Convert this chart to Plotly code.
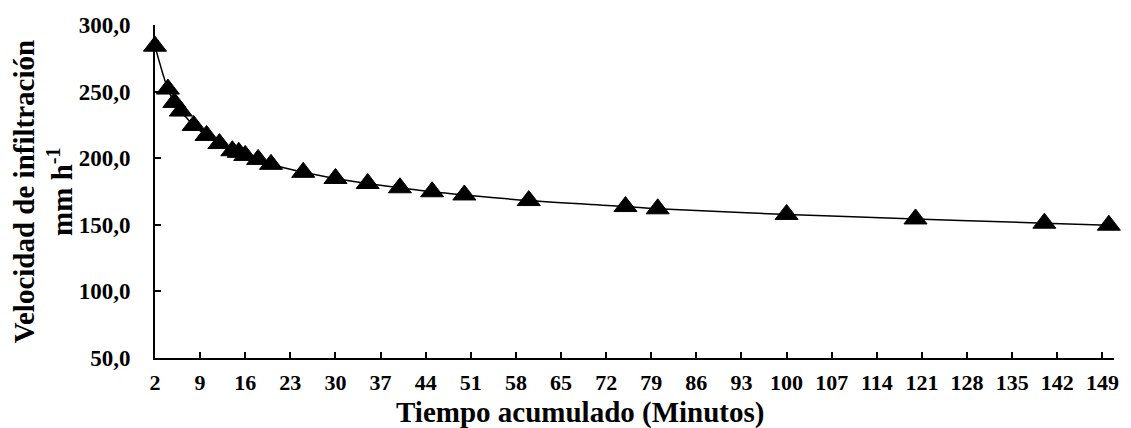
import plotly.graph_objects as go

# Data
tiempo = [2, 4, 5, 6, 8, 10, 12, 14, 15, 16, 18, 20, 25, 30, 35, 40, 45, 50, 60, 75, 80, 100, 120, 140, 150]
velocidad = [284.1, 251.9, 241.9, 235.4, 224.6, 217.1, 211.0, 205.6, 204.4, 202.1, 199.1, 195.4,
             189.4, 184.8, 181.0, 177.8, 174.8, 172.4, 168.2, 163.7, 162.0, 157.8, 154.4, 151.2, 149.7]

x_ticks = [2, 9, 16, 23, 30, 37, 44, 51, 58, 65, 72, 79, 86, 93, 100, 107, 114, 121, 128, 135, 142, 149]
y_ticks = [50, 100, 150, 200, 250, 300]
y_tick_text = ["50,0", "100,0", "150,0", "200,0", "250,0", "300,0"]

x_title = "Tiempo acumulado (Minutos)"
y_title = "Velocidad de infiltración<br>mm h<sup>-1</sup>"

FONT = "Liberation Serif, Times New Roman, serif"

fig = go.Figure()
fig.add_trace(go.Scatter(
    x=tiempo, y=velocidad,
    mode="lines+markers",
    line=dict(color="black", width=1.5, shape="spline"),
    marker=dict(symbol="triangle-up", size=20, color="black",
                line=dict(color="black", width=1)),
    cliponaxis=False,
    showlegend=False,
))

axis_common = dict(
    showgrid=False, zeroline=False,
    showline=True, linecolor="black", linewidth=2,
    ticks="inside", ticklen=6, tickwidth=2, tickcolor="black",
)

fig.update_xaxes(range=[2, 150.8], tickmode="array", tickvals=x_ticks,
                 ticktext=[str(v) for v in x_ticks], ticklabelstandoff=4,
                 tickfont=dict(family=FONT, size=22, color="black", weight="bold"),
                 **axis_common)
fig.update_yaxes(range=[50, 300], tickmode="array", tickvals=y_ticks,
                 ticktext=y_tick_text, ticklabelstandoff=18,
                 tickfont=dict(family=FONT, size=23, color="black", weight="bold"),
                 **axis_common)

fig.add_annotation(text=x_title, xref="paper", yref="paper",
                   x=0.443, y=-0.163, xanchor="center", yanchor="middle",
                   showarrow=False,
                   font=dict(family=FONT, size=29, color="black", weight="bold"))
fig.add_annotation(text=y_title, xref="paper", yref="paper",
                   x=-0.117, y=0.5, xanchor="center", yanchor="middle",
                   textangle=-90, showarrow=False,
                   font=dict(family=FONT, size=29, color="black", weight="bold"))

fig.update_layout(
    width=1131, height=428,
    margin=dict(l=155, r=17, t=25, b=70),
    paper_bgcolor="white", plot_bgcolor="white",
    font=dict(family=FONT, color="black"),
)

fig.write_html("out.html", config={"displayModeBar": False},
               post_script="document.body.style.margin='0';document.body.style.overflow='hidden';")
